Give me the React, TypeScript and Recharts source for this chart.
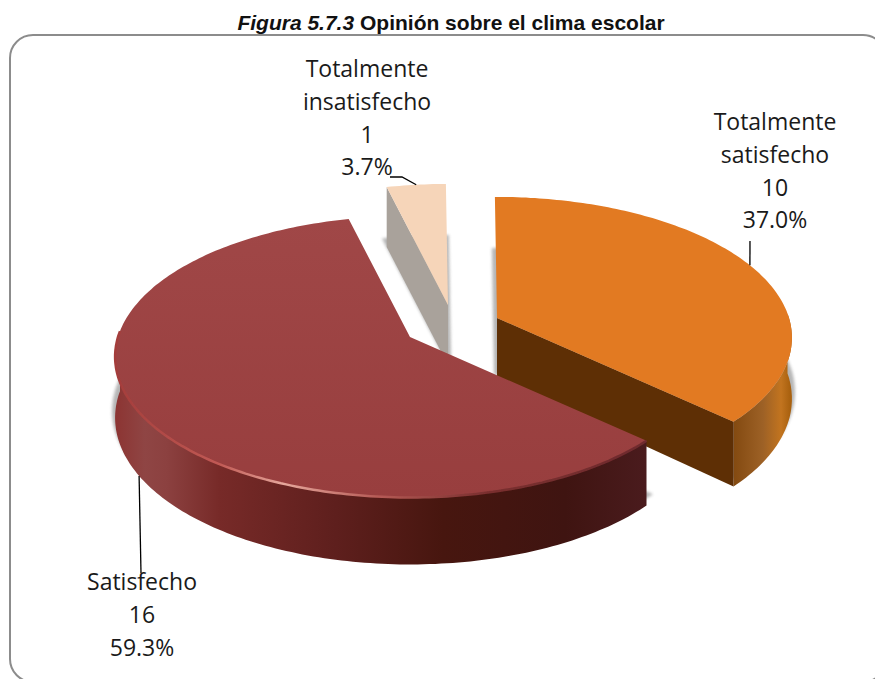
import { PieChart, Pie } from 'recharts';

const categories = ['Totalmente insatisfecho', 'Totalmente satisfecho', 'Satisfecho'];
const counts = [1, 10, 16];
const labelLines = [
  ['Totalmente', 'insatisfecho'],
  ['Totalmente', 'satisfecho'],
  ['Satisfecho'],
];

const rows = categories.map((name, i) => ({ name, value: counts[i] }));
const total = counts.reduce((a, b) => a + b, 0);

const LABEL_FONT = '"Open Sans", sans-serif';
const Y_RADIUS = 138;
const PERSPECTIVE = 0.14;

interface SliceLook {
  dx: number;
  dy: number;
  top: string;
  cut: string;
  wall: string;
  rim: string;
  labelX: number;
  labelY: number;
  leader: number[][];
  leaderOnWall: boolean;
}

const looks: Record<string, SliceLook> = {
  'Totalmente insatisfecho': {
    dx: 38, dy: -32, top: '#f6d5b9', cut: '#a9a29b', wall: '#a9a29b', rim: 'none',
    labelX: 367, labelY: 77, leader: [[390, 177], [402, 177]], leaderOnWall: false,
  },
  'Totalmente satisfecho': {
    dx: 87, dy: -19, top: '#e27a22', cut: '#5e2f05', wall: 'url(#wallOrange)', rim: 'none',
    labelX: 775, labelY: 130, leader: [[750, 241]], leaderOnWall: false,
  },
  Satisfecho: {
    dx: 0, dy: 0, top: 'url(#topRed)', cut: '#41150f', wall: 'url(#wallRed)', rim: 'url(#rimRed)',
    labelX: 142, labelY: 590, leader: [[141, 573]], leaderOnWall: true,
  },
};

const rad = (deg: number) => (deg * Math.PI) / 180;

// tilted circle: theta runs clockwise from the back of the pie
function project(theta: number, r: number) {
  const c = Math.cos(rad(theta));
  const s = Math.sin(rad(theta));
  const d = 1 + PERSPECTIVE * c;
  return { x: (r * s) / d, y: (-Y_RADIUS * c) / d };
}

const depthAt = (theta: number) => 60 + 7 * Math.max(0, -Math.cos(rad(theta)));

function arcThetas(a: number, b: number) {
  const out: number[] = [];
  const steps = Math.max(6, Math.ceil(b - a));
  for (let i = 0; i <= steps; i++) out.push(a + ((b - a) * i) / steps);
  return out;
}

function toPath(points: { x: number; y: number }[], close = true) {
  const d = points.map((p, i) => `${i ? 'L' : 'M'}${p.x.toFixed(1)} ${p.y.toFixed(1)}`).join(' ');
  return close ? `${d} Z` : d;
}

function Slice3D(props: any) {
  const { cx, cy, outerRadius, startAngle, endAngle, payload } = props;
  const look = looks[payload.name];
  const ax = cx + look.dx;
  const ay = cy + look.dy;
  const t1 = 90 - startAngle;
  const t2 = 90 - endAngle;
  const thetas = arcThetas(t1, t2);
  const at = (theta: number) => {
    const p = project(theta, outerRadius);
    return { x: ax + p.x, y: ay + p.y };
  };
  const drop = (theta: number) => {
    const p = at(theta);
    return { x: p.x, y: p.y + depthAt(theta) };
  };
  const apex = { x: ax, y: ay };
  const topFace = [apex, ...thetas.map(at)];
  const shadow = topFace.map((p) => ({ x: p.x, y: p.y + 54 }));

  const front = thetas.filter((t) => Math.cos(rad(t)) < 0.05);
  const wall = front.length ? [...front.map(at), ...front.slice().reverse().map(drop)] : null;
  const rim = front.length ? toPath(front.map(at), false) : null;

  // a cut face only shows when it turns towards the viewer
  const cutFace = (theta: number, sign: number) => {
    const p = at(theta);
    const len = Math.hypot(p.x - ax, p.y - ay);
    const normalY = (sign * (p.x - ax)) / len;
    if (normalY < 0.2) return null;
    return [apex, p, { x: p.x, y: p.y + depthAt(theta) }, { x: ax, y: ay + 60 }];
  };
  const startCut = cutFace(t1, -1);
  const endCut = cutFace(t2, 1);

  return (
    <g>
      <path d={toPath(shadow)} fill="#8f8f8f" stroke="#8f8f8f" strokeWidth={6} opacity={0.65} filter="url(#softEdge)" />
      {wall && <path d={toPath(wall)} fill={look.wall} />}
      {startCut && <path d={toPath(startCut)} fill={look.cut} />}
      {endCut && <path d={toPath(endCut)} fill={look.cut} />}
      <path d={toPath(topFace)} fill={look.top} />
      {rim && look.rim !== 'none' && (
        <path d={rim} fill="none" stroke={look.rim} strokeWidth={2.5} filter="url(#softRim)" />
      )}
    </g>
  );
}

function SliceLabel(props: any) {
  const { cx, cy, outerRadius, midAngle, value, name } = props;
  const look = looks[name];
  const theta = 90 - midAngle;
  const p = project(theta, outerRadius);
  const tipX = cx + look.dx + p.x;
  const tipY = cy + look.dy + p.y + (look.leaderOnWall ? depthAt(theta) : 0);
  const lineIndex = categories.indexOf(name);
  const lines = [...labelLines[lineIndex], String(value), `${((value / total) * 100).toFixed(1)}%`];
  const leader = [...look.leader.map(([x, y]) => ({ x, y })), { x: tipX, y: tipY }];
  return (
    <g>
      <path d={toPath(leader, false)} fill="none" stroke="#000" strokeWidth={1.3} />
      <text textAnchor="middle" fontFamily={LABEL_FONT} fontSize={23} fill="#1a1a1a">
        {lines.map((line, i) => (
          <tspan key={i} x={look.labelX} y={look.labelY + i * 32.8}>
            {line}
          </tspan>
        ))}
      </text>
    </g>
  );
}

export default function App() {
  return (
    <div style={{ position: 'absolute', left: 0, top: 0, width: 875, height: 679, overflow: 'hidden', background: '#fff' }}>
      <div style={{
        position: 'absolute',
        left: 0,
        width: 902,
        top: 11,
        textAlign: 'center',
        fontFamily: '"Liberation Sans", Arial, sans-serif',
        fontSize: 21,
        fontWeight: 700,
        lineHeight: '24px',
        color: '#111',
      }}>
        <i>Figura 5.7.3</i> Opinión sobre el clima escolar
      </div>
      <div style={{
        position: 'absolute',
        left: 9,
        top: 33.5,
        width: 878,
        height: 649,
        boxSizing: 'border-box',
        border: '2px solid #8c8c8c',
        borderRadius: 24,
      }} />
      <div style={{ position: 'absolute', left: 0, top: 0 }}>
        <PieChart width={875} height={679} margin={{ top: 0, right: 0, bottom: 0, left: 0 }}>
          <defs>
            <filter id="softEdge" x="-10%" y="-10%" width="120%" height="120%">
              <feGaussianBlur stdDeviation="1.8" />
            </filter>
            <filter id="softRim" x="-5%" y="-5%" width="110%" height="110%">
              <feGaussianBlur stdDeviation="0.6" />
            </filter>
            <linearGradient id="topRed" x1="0" y1="0" x2="0" y2="1">
              <stop offset="0" stopColor="#a04747" />
              <stop offset="1" stopColor="#983e3e" />
            </linearGradient>
            <linearGradient id="wallRed" gradientUnits="userSpaceOnUse" x1="113" y1="0" x2="645" y2="0">
              <stop offset="0" stopColor="#8c3331" />
              <stop offset="0.06" stopColor="#8f4544" />
              <stop offset="0.1" stopColor="#8c4140" />
              <stop offset="0.2" stopColor="#772a28" />
              <stop offset="0.42" stopColor="#5e1f1d" />
              <stop offset="0.62" stopColor="#47160f" />
              <stop offset="0.85" stopColor="#3f1411" />
              <stop offset="1" stopColor="#4a1b1d" />
            </linearGradient>
            <linearGradient id="rimRed" gradientUnits="userSpaceOnUse" x1="113" y1="0" x2="645" y2="0">
              <stop offset="0" stopColor="#a33c3a" />
              <stop offset="0.2" stopColor="#c15a55" />
              <stop offset="0.32" stopColor="#e6a79c" />
              <stop offset="0.5" stopColor="#b55a55" />
              <stop offset="0.7" stopColor="#7a2f2f" />
              <stop offset="1" stopColor="#6f2b2d" />
            </linearGradient>
            <linearGradient id="wallOrange" gradientUnits="userSpaceOnUse" x1="730" y1="0" x2="790" y2="0">
              <stop offset="0" stopColor="#80470e" />
              <stop offset="0.55" stopColor="#9d6126" />
              <stop offset="0.85" stopColor="#c2741f" />
              <stop offset="1" stopColor="#a9610f" />
            </linearGradient>
          </defs>
          <Pie
            data={rows}
            dataKey="value"
            nameKey="name"
            cx={410}
            cy={337}
            innerRadius={0}
            outerRadius={292}
            startAngle={103.8}
            endAngle={-256.2}
            stroke="none"
            isAnimationActive={false}
            shape={Slice3D}
            label={SliceLabel}
            labelLine={false}
          />
        </PieChart>
      </div>
    </div>
  );
}
